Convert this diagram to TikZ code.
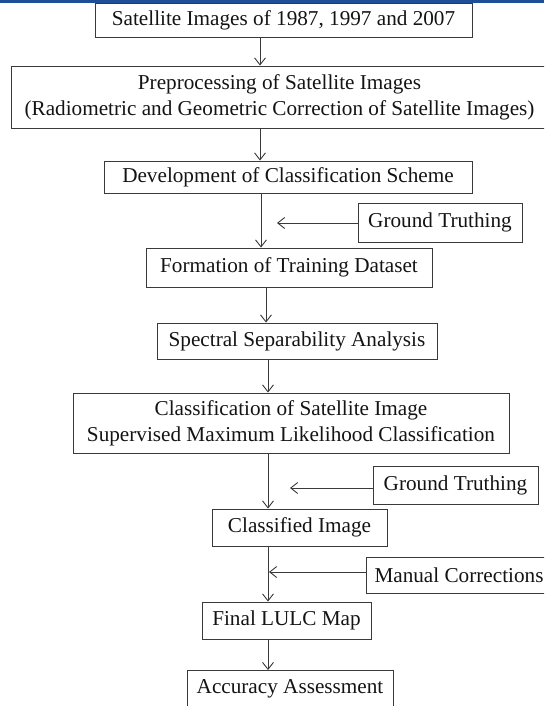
\documentclass[tikz,border=0pt]{standalone}
\usepackage{fontspec}
\setmainfont{Liberation Serif}
\usetikzlibrary{arrows.meta}
\definecolor{edge}{HTML}{3A3A3A}
\definecolor{band}{HTML}{1F4E99}
\definecolor{ink}{HTML}{141414}
\begin{document}
\begin{tikzpicture}[x=1pt,y=-1pt,
  box/.style={draw=edge, line width=0.9pt, rectangle, inner sep=0pt,
    align=center, text=ink, font=\fontsize{21.2}{26}\selectfont},
  arr/.style={draw=edge, line width=0.9pt,
    -{Straight Barb[length=7pt,width=11pt]}}]
\useasboundingbox (0,0) rectangle (544,706);
\clip (0,0) rectangle (544,706);
\fill[white] (0,0) rectangle (544,706);
% thin title band along the top edge
\fill[band] (0,0) rectangle (544,3);

% main flow
\node[box, minimum width=377pt, minimum height=34pt] (b1) at (283.5,20)
  {Satellite Images of 1987, 1997 and 2007};
\node[box, minimum width=537pt, minimum height=62pt] (b2) at (279.5,97)
  {Preprocessing of Satellite Images\\(Radiometric and Geometric Correction of Satellite Images)};
\node[box, minimum width=368pt, minimum height=32pt] (b3) at (288,177)
  {Development of Classification Scheme};
\node[box, minimum width=286pt, minimum height=39pt] (b4) at (289,267.5)
  {Formation of Training Dataset};
\node[box, minimum width=280pt, minimum height=36pt] (b5) at (297,341)
  {Spectral Separability Analysis};
\node[box, minimum width=436pt, minimum height=60pt] (b6) at (291,423)
  {Classification of Satellite Image\\Supervised Maximum Likelihood Classification};
\node[box, minimum width=175pt, minimum height=37pt] (b7) at (299.5,527.5)
  {Classified Image};
\node[box, minimum width=169pt, minimum height=37pt] (b8) at (286.5,620.5)
  {Final LULC Map};
\node[box, minimum width=206pt, minimum height=37pt] (b9) at (290,689)
  {Accuracy Assessment};

% side inputs
\node[box, minimum width=164pt, minimum height=39pt] (g1) at (440,222.5)
  {Ground Truthing};
\node[box, minimum width=165pt, minimum height=38pt] (g2) at (455.5,485)
  {Ground Truthing};
\node[box, minimum width=186pt, minimum height=36pt] (mc) at (459,575)
  {Manual Corrections};

% columns of the vertical connectors
\coordinate (c1) at (260,0);
\coordinate (c2) at (260,0);
\coordinate (c3) at (261,0);
\coordinate (c4) at (266,0);
\coordinate (c5) at (268,0);
\coordinate (c6) at (268,0);
\coordinate (c7) at (268,0);
\coordinate (c8) at (268,0);

\draw[arr] (b1.south -| c1) -- (b2.north -| c1);
\draw[arr] (b2.south -| c2) -- (b3.north -| c2);
\draw[arr] (b3.south -| c3) -- (b4.north -| c3);
\draw[arr] (b4.south -| c4) -- (b5.north -| c4);
\draw[arr] (b5.south -| c5) -- (b6.north -| c5);
\draw[arr] (b6.south -| c6) -- (b7.north -| c6);
\draw[arr] (b7.south -| c7) -- (b8.north -| c7);
\draw[arr] (b8.south -| c8) -- (b9.north -| c8);

% free ends of the side arrows
\coordinate (t1) at (277,223);
\coordinate (t2) at (290,488);
\coordinate (t3) at (269,572);

\draw[arr] (g1.west |- t1) -- (t1);
\draw[arr] (g2.west |- t2) -- (t2);
\draw[arr] (mc.west |- t3) -- (t3);
\end{tikzpicture}
\end{document}
